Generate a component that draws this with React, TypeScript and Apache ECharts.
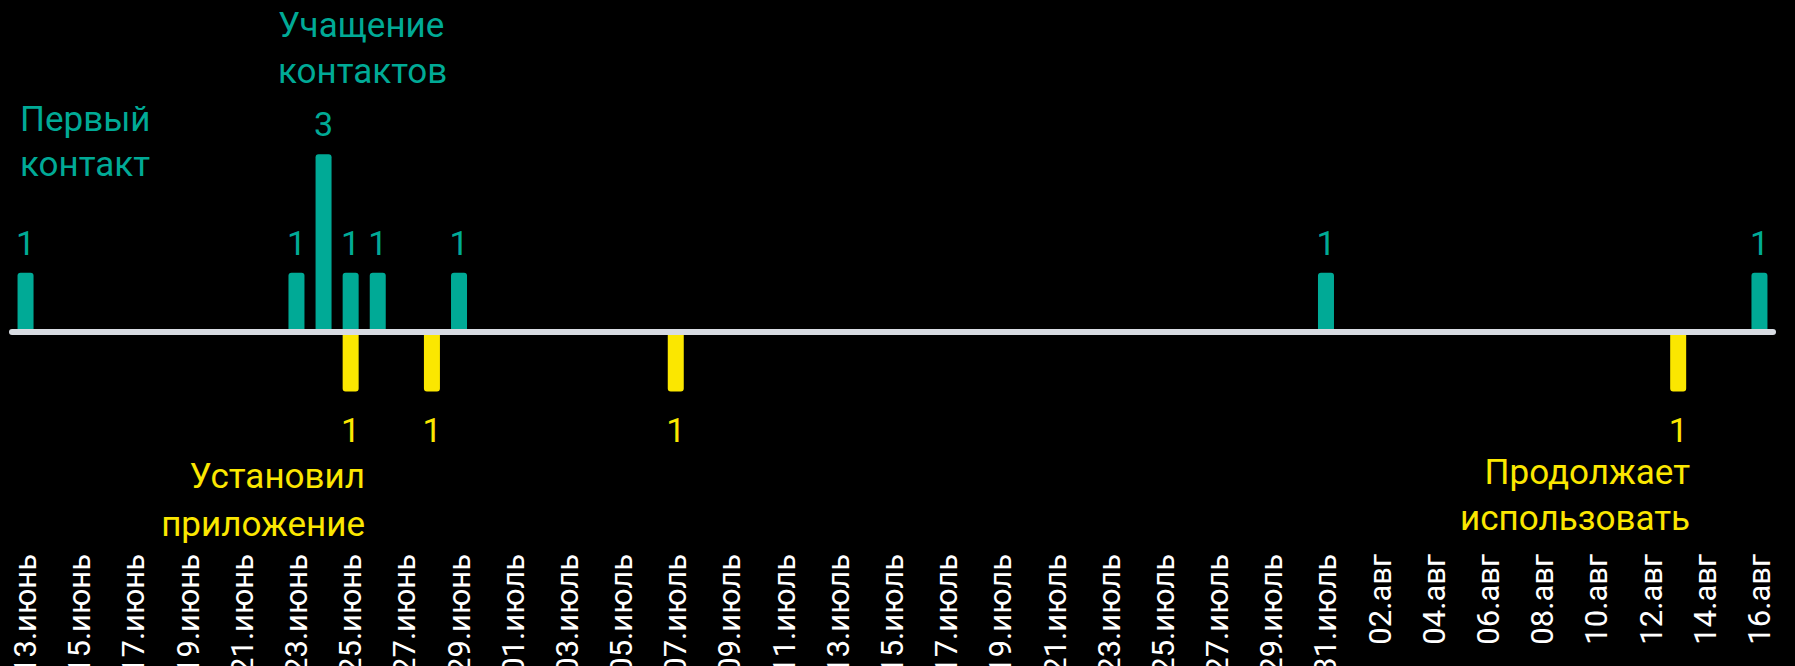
import React, { useEffect, useRef } from "react";
import * as echarts from "echarts";

const juneDays = ["13","14","15","16","17","18","19","20","21","22","23","24","25","26","27","28","29","30"];
const julyDays = ["01","02","03","04","05","06","07","08","09","10","11","12","13","14","15","16","17","18","19","20","21","22","23","24","25","26","27","28","29","30","31"];
const augDays = ["01","02","03","04","05","06","07","08","09","10","11","12","13","14","15","16"];

const categories: string[] = [
  ...juneDays.map((d) => d + ".июнь"),
  ...julyDays.map((d) => d + ".июль"),
  ...augDays.map((d) => d + ".авг"),
];

// Contacts (teal, upward) — one entry per day
const contacts: (number | string)[] = [
  1, "-", "-", "-", "-", "-", "-", "-", "-", "-", // 13–22 июнь
  1, 3, 1, 1, "-", "-", 1, "-",                   // 23–30 июнь
  "-", "-", "-", "-", "-", "-", "-", "-", "-", "-", // 01–10 июль
  "-", "-", "-", "-", "-", "-", "-", "-", "-", "-", // 11–20 июль
  "-", "-", "-", "-", "-", "-", "-", "-", "-", "-", // 21–30 июль
  1,                                              // 31 июль
  "-", "-", "-", "-", "-", "-", "-", "-", "-", "-", // 01–10 авг
  "-", "-", "-", "-", "-", 1,                     // 11–16 авг
];

// App usage (yellow, downward) — one entry per day
const usage: (number | string)[] = [
  "-", "-", "-", "-", "-", "-", "-", "-", "-", "-", // 13–22 июнь
  "-", "-", -1, "-", "-", -1, "-", "-",           // 23–30 июнь
  "-", "-", "-", "-", "-", "-", -1, "-", "-", "-", // 01–10 июль
  "-", "-", "-", "-", "-", "-", "-", "-", "-", "-", // 11–20 июль
  "-", "-", "-", "-", "-", "-", "-", "-", "-", "-", // 21–30 июль
  "-",                                            // 31 июль
  "-", "-", "-", "-", "-", "-", "-", "-", "-", "-", // 01–10 авг
  "-", "-", -1, "-", "-", "-",                    // 11–16 авг
];

const annotations = [
  { text: "Первый\nконтакт", color: "teal" },
  { text: "Учащение\nконтактов", color: "teal" },
  { text: "Установил\nприложение", color: "yellow" },
  { text: "Продолжает\nиспользовать", color: "yellow" },
];

const TEAL = "#00aa96";
const YELLOW = "#fbe700";
const FONT = "Roboto, 'Noto Sans', sans-serif";

export default function App() {
  const ref = useRef<HTMLDivElement>(null);

  useEffect(() => {
    if (!ref.current) return;
    const chart = echarts.init(ref.current, undefined, { renderer: "svg" });
    const col = (c: string) => (c === "teal" ? TEAL : YELLOW);
    chart.setOption({
      animation: false,
      backgroundColor: "#000",
      textStyle: { fontFamily: FONT },
      grid: {
        left: 12,
        right: 22,
        top: 35.6,
        bottom: 156,
        containLabel: false,
        outerBoundsMode: "none",
      },
      xAxis: {
        type: "category",
        data: categories,
        boundaryGap: true,
        z: 5,
        axisLine: { show: true, onZero: true, lineStyle: { color: "#d8dce2", width: 6 } },
        axisTick: { show: false },
        splitLine: { show: false },
        axisLabel: {
          interval: 1,
          rotate: 90,
          margin: 44,
          color: "#ffffff",
          fontSize: 31,
          fontFamily: FONT,
        },
      },
      yAxis: {
        type: "value",
        min: -3,
        max: 5,
        show: false,
        splitLine: { show: false },
      },
      series: [
        {
          name: "Контакты",
          type: "bar",
          data: contacts,
          barWidth: 16,
          barGap: "-100%",
          itemStyle: { color: TEAL, borderRadius: [3, 3, 0, 0] },
          label: {
            show: true,
            position: "top",
            distance: 13,
            color: TEAL,
            fontSize: 34,
            fontFamily: FONT,
          },
        },
        {
          name: "Использование",
          type: "bar",
          data: usage,
          barWidth: 16,
          barGap: "-100%",
          itemStyle: { color: YELLOW, borderRadius: [0, 0, 3, 3] },
          label: {
            show: true,
            position: "bottom",
            distance: 22,
            color: YELLOW,
            fontSize: 34,
            fontFamily: FONT,
            formatter: (p: any) => String(Math.abs(p.value)),
          },
        },
      ],
      graphic: [
        { type: "text", x: 20, y: 97, style: { text: annotations[0].text, fill: col(annotations[0].color), font: `35px ${FONT}`, lineHeight: 45, align: "left", verticalAlign: "top" } },
        { type: "text", x: 278, y: 2, style: { text: annotations[1].text, fill: col(annotations[1].color), font: `35px ${FONT}`, lineHeight: 46, align: "left", verticalAlign: "top" } },
        { type: "text", x: 365, y: 452, style: { text: annotations[2].text, fill: col(annotations[2].color), font: `35px ${FONT}`, lineHeight: 48, align: "right", verticalAlign: "top" } },
        { type: "text", x: 1690, y: 449, style: { text: annotations[3].text, fill: col(annotations[3].color), font: `35px ${FONT}`, lineHeight: 46, align: "right", verticalAlign: "top" } },
      ],
    });
    return () => chart.dispose();
  }, []);

  return (
    <div
      ref={ref}
      style={{ position: "fixed", left: 0, top: 0, width: 1795, height: 666 }}
    />
  );
}
